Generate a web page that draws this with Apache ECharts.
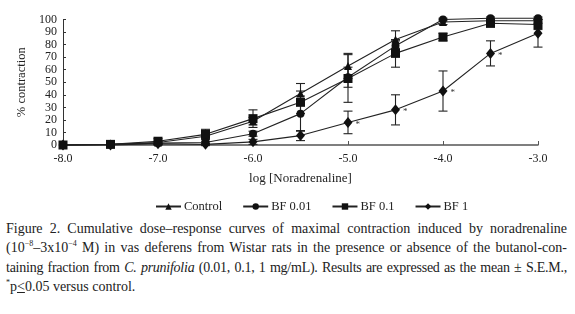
<!DOCTYPE html>
<html>
<head>
<meta charset="utf-8">
<script src="https://cdn.jsdelivr.net/npm/echarts@6/dist/echarts.min.js"></script>
<style>
  html, body { margin: 0; padding: 0; background: #fff; }
  #wrap { width: 575px; height: 314px; position: relative; overflow: hidden; }
  #chart { width: 575px; height: 215px; position: absolute; left: 0; top: 0; }
  .caption {
    position: absolute; left: 6px; top: 219px; width: 561px;
    font-family: "Liberation Serif", "DejaVu Serif", serif;
    font-size: 14px; line-height: 19.3px; color: #222;
  }
  .caption div { text-align: justify; text-align-last: justify; white-space: nowrap; }
  .caption div.tight { letter-spacing: -0.25px; word-spacing: -1px; }
  .caption div.last { text-align-last: left; }
  sup { font-size: 8px; line-height: 0; }
</style>
</head>
<body>
<div id="wrap">
  <div id="chart"></div>
  <div class="caption">
    <div>Figure 2. Cumulative dose–response curves of maximal contraction induced by noradrenaline</div>
    <div>(10<sup>−8</sup>–3x10<sup>−4</sup> M) in vas deferens from Wistar rats in the presence or absence of the butanol-con-</div>
    <div class="tight">taining fraction from <i>C. prunifolia</i> (0.01, 0.1, 1 mg/mL). Results are expressed as the mean ± S.E.M.,</div>
    <div class="last"><sup>*</sup>p<u>&lt;</u>0.05 versus control.</div>
  </div>
</div>
<script>
// log dose (x)
const logDose = [-8, -7.5, -7, -6.5, -6, -5.5, -5, -4.5, -4, -3.5, -3];
// mean % contraction
const control = [0, 0.5, 2, 7, 19, 41, 63, 84, 98, 99, 99];
const bf001 = [0, 0.5, 1.5, 2, 9, 25, 54, 79, 100, 101, 101];
const bf01 = [0, 0.5, 3, 8.5, 21, 34, 53, 73, 86, 97, 96];
const bf1 = [0, 0, 1, 0.5, 2.5, 7.5, 18, 28, 43, 73, 89];
// S.E.M.
const semControl = [0, 0, 1, 2, 3, 8, 10, 7, 2, 2, 2];
const semBf001 = [0, 0, 1, 1, 2, 14, 8, 4, 1, 1, 1];
const semBf01 = [0, 0, 2, 4, 7, 9, 19, 11, 3, 3, 4];
const semBf1 = [0, 0, 0.5, 1, 2, 4, 9, 12, 16, 10, 11];
// points significantly different from control (BF 1)
const sigIdx = [6, 7, 8, 9];

const seriesNames = ['Control', 'BF 0.01', 'BF 0.1', 'BF 1'];
const yTicks = [0, 100, 10];

const chart = echarts.init(document.getElementById('chart'));
const serif = '"Liberation Serif", "DejaVu Serif", serif';

function pts(vals) { return logDose.map((x, i) => [x, vals[i]]); }
function errs(vals, sem) { return logDose.map((x, i) => [x, vals[i] - sem[i], vals[i] + sem[i]]); }

function errorSeries(vals, sem) {
  return {
    type: 'custom',
    silent: true,
    z: 1,
    renderItem: function (params, api) {
      if (api.value(2) - api.value(1) <= 0) return;
      const lo = api.coord([api.value(0), api.value(1)]);
      const hi = api.coord([api.value(0), api.value(2)]);
      const w = 4.5;
      const st = { stroke: '#222', lineWidth: 1.1 };
      return {
        type: 'group',
        children: [
          { type: 'line', shape: { x1: lo[0], y1: lo[1], x2: hi[0], y2: hi[1] }, style: st },
          { type: 'line', shape: { x1: lo[0] - w, y1: lo[1], x2: lo[0] + w, y2: lo[1] }, style: st },
          { type: 'line', shape: { x1: hi[0] - w, y1: hi[1], x2: hi[0] + w, y2: hi[1] }, style: st }
        ]
      };
    },
    encode: { x: 0, y: [1, 2] },
    data: errs(vals, sem)
  };
}

function lineSeries(name, vals, symbol, size, color) {
  return {
    name: name,
    type: 'line',
    data: pts(vals),
    symbol: symbol,
    symbolSize: size,
    clip: false,
    z: 3,
    itemStyle: { color: color },
    lineStyle: { color: '#222', width: 1.1 }
  };
}

const bf1Series = lineSeries(seriesNames[3], bf1, 'diamond', [9, 11], '#111');
bf1Series.data = pts(bf1).map((p, i) => sigIdx.indexOf(i) >= 0
  ? { value: p, label: { show: true, formatter: '*', position: 'right', distance: 3, fontSize: 9, color: '#333', offset: [0, 2] } }
  : p);

const option = {
  animation: false,
  textStyle: { fontFamily: serif },
  grid: { left: 63, right: 37, top: 19.5, bottom: 70 },
  legend: {
    bottom: -3,
    left: 150,
    itemWidth: 25,
    itemHeight: 8,
    itemGap: 20,
    textStyle: { fontFamily: serif, fontSize: 12.5, color: '#222', padding: [0, 0, 0, -2] },
    data: seriesNames
  },
  xAxis: {
    type: 'value',
    min: -8,
    max: -3,
    interval: 1,
    name: 'log [Noradrenaline]',
    nameLocation: 'middle',
    nameGap: 27,
    nameTextStyle: { fontFamily: serif, fontSize: 13, color: '#222' },
    axisLine: { lineStyle: { color: '#555', width: 1.5 } },
    axisTick: { inside: true, length: 4, lineStyle: { color: '#555' } },
    axisLabel: { fontFamily: serif, fontSize: 12, color: '#222', margin: 8, formatter: v => v.toFixed(1) },
    splitLine: { show: false }
  },
  yAxis: {
    type: 'value',
    min: yTicks[0],
    max: yTicks[1],
    interval: yTicks[2],
    name: '% contraction',
    nameLocation: 'middle',
    nameGap: 24,
    nameRotate: 90,
    nameTextStyle: { fontFamily: serif, fontSize: 12.5, color: '#222' },
    axisLine: { show: true, lineStyle: { color: '#333', width: 1 } },
    axisTick: { show: true, inside: true, length: 3, lineStyle: { color: '#333' } },
    axisLabel: {
      fontFamily: serif, fontSize: 12, lineHeight: 11, color: '#222', margin: 6,
      showMinLabel: true, showMaxLabel: true, hideOverlap: false
    },
    splitLine: { show: false }
  },
  series: [
    errorSeries(control, semControl),
    errorSeries(bf001, semBf001),
    errorSeries(bf01, semBf01),
    errorSeries(bf1, semBf1),
    lineSeries(seriesNames[0], control, 'triangle', 8, '#111'),
    lineSeries(seriesNames[1], bf001, 'circle', 8, '#111'),
    lineSeries(seriesNames[2], bf01, 'rect', 9, '#111'),
    bf1Series
  ]
};
chart.setOption(option);
</script>
</body>
</html>
